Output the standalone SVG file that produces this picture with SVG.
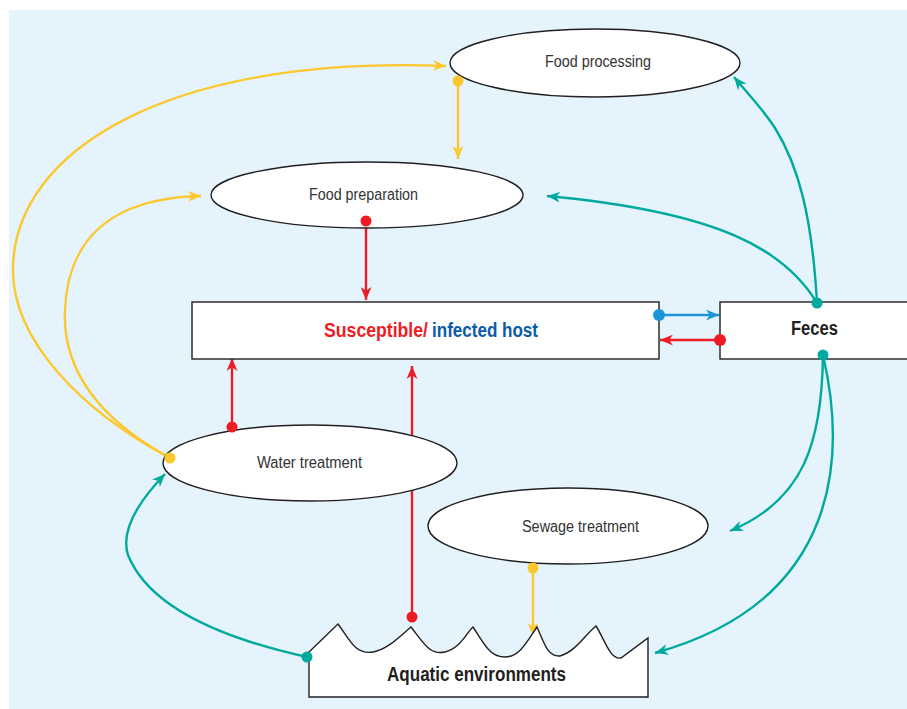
<svg xmlns="http://www.w3.org/2000/svg" width="907" height="709" viewBox="0 0 907 709">
<defs>
<style>
.bg{fill:#e5f4fc}
.node{fill:#fff;stroke:#231f20;stroke-width:1.4}
.lbl{font-family:"Liberation Sans",Arial,sans-serif;font-size:16px;fill:#333;text-anchor:start}
.blbl{font-family:"Liberation Sans",Arial,sans-serif;font-size:20px;font-weight:bold;fill:#231f20}
.c{fill:none;stroke-width:2.4}
.y{stroke:#fdc72e}
.r{stroke:#ed1c24}
.t{stroke:#00a99d}
.b{stroke:#1b95d8}
</style>
<marker id="ay" viewBox="0 0 12 10" refX="12" refY="5" markerWidth="13" markerHeight="11" orient="auto" markerUnits="userSpaceOnUse"><path d="M0,0 L12,5 L0,10 L3.5,5 Z" fill="#fdc72e"/></marker>
<marker id="ar" viewBox="0 0 12 10" refX="12" refY="5" markerWidth="13" markerHeight="11" orient="auto" markerUnits="userSpaceOnUse"><path d="M0,0 L12,5 L0,10 L3.5,5 Z" fill="#ed1c24"/></marker>
<marker id="at" viewBox="0 0 12 10" refX="12" refY="5" markerWidth="13" markerHeight="11" orient="auto" markerUnits="userSpaceOnUse"><path d="M0,0 L12,5 L0,10 L3.5,5 Z" fill="#00a99d"/></marker>
<marker id="ab" viewBox="0 0 12 10" refX="12" refY="5" markerWidth="13" markerHeight="11" orient="auto" markerUnits="userSpaceOnUse"><path d="M0,0 L12,5 L0,10 L3.5,5 Z" fill="#1b95d8"/></marker>
</defs>
<rect class="bg" x="9" y="10" width="898" height="699"/>
<g id="connectors">
<path class="c y" stroke-width="2.8" d="M170,458 C80,410 13,340 13,270 C13,150 170,55 446,66" marker-end="url(#ay)"/>
<path class="c y" stroke-width="2.8" d="M170,458 C100,420 62,370 65,310 C68,240 110,198 201,196" marker-end="url(#ay)"/>
<path class="c y" d="M458,81 L458,159" marker-end="url(#ay)"/>
<path class="c y" d="M533,568 L533,636" marker-end="url(#ay)"/>
<path class="c r" d="M366,221 L366,300" marker-end="url(#ar)"/>
<path class="c r" d="M232,427 L232,358" marker-end="url(#ar)"/>
<path class="c r" d="M412,617 L412,366" marker-end="url(#ar)"/>
<path class="c r" d="M720,340 L660,340" marker-end="url(#ar)"/>
<path class="c b" d="M659,315 L719,315" marker-end="url(#ab)"/>
<path class="c t" d="M817,303 C812,215 798,165 775,128 C762,108 748,94 734,77" marker-end="url(#at)"/>
<path class="c t" d="M817,303 C785,250 720,212 547,196" marker-end="url(#at)"/>
<path class="c t" d="M823,355 C822,440 805,500 730,531" marker-end="url(#at)"/>
<path class="c t" d="M823,355 C845,450 845,600 655,653" marker-end="url(#at)"/>
<path class="c t" d="M307,657 C230,640 150,610 128,555 C120,530 140,500 165,474" marker-end="url(#at)"/>
</g>
<g id="food-processing">
<ellipse class="node" cx="595" cy="63" rx="145" ry="34"/>
<text class="lbl" x="545" y="67" textLength="106" lengthAdjust="spacingAndGlyphs">Food processing</text>
</g>
<g id="food-preparation">
<ellipse class="node" cx="367" cy="195" rx="156" ry="33"/>
<text class="lbl" x="309" y="200" textLength="109" lengthAdjust="spacingAndGlyphs">Food preparation</text>
</g>
<g id="host">
<rect class="node" x="192" y="302" width="467" height="57"/>
<text class="blbl" x="324" y="337" style="fill:#ed1c24" textLength="104" lengthAdjust="spacingAndGlyphs">Susceptible/</text>
<text class="blbl" x="432" y="337" style="fill:#0b5ca8" textLength="106" lengthAdjust="spacingAndGlyphs">infected host</text>
</g>
<g id="feces">
<rect class="node" x="720" y="302" width="200" height="57"/>
<text class="blbl" x="791" y="335" textLength="47" lengthAdjust="spacingAndGlyphs">Feces</text>
</g>
<g id="water-treatment">
<ellipse class="node" cx="310" cy="463" rx="147" ry="38"/>
<text class="lbl" x="257" y="468" textLength="105" lengthAdjust="spacingAndGlyphs">Water treatment</text>
</g>
<g id="sewage-treatment">
<ellipse class="node" cx="568" cy="526" rx="140" ry="38"/>
<text class="lbl" x="522" y="532" textLength="117" lengthAdjust="spacingAndGlyphs">Sewage treatment</text>
</g>
<g id="aquatic-environments">
<path class="node" d="M309,697 L309,652 L338,624 C350,640 355,655 373,652 C387,650 400,636 411,627 C425,645 430,655 445,652 C460,648 465,635 473,627 C485,645 490,657 505,657 C520,657 528,640 537,627 C545,645 548,657 560,656 C575,652 585,635 596,626 C605,640 610,660 621,658 L648,638 L648,697 Z"/>
<text class="blbl" x="387" y="681" textLength="179" lengthAdjust="spacingAndGlyphs">Aquatic environments</text>
</g>
<g id="connector-dots">
<circle cx="458" cy="81" r="5.5" fill="#fdc72e"/>
<circle cx="170" cy="458" r="5.5" fill="#fdc72e"/>
<circle cx="533" cy="568" r="5.5" fill="#fdc72e"/>
<circle cx="366" cy="221" r="5.5" fill="#ed1c24"/>
<circle cx="232" cy="427" r="5.5" fill="#ed1c24"/>
<circle cx="412" cy="617" r="5.5" fill="#ed1c24"/>
<circle cx="720" cy="340" r="6" fill="#ed1c24"/>
<circle cx="659" cy="315" r="6" fill="#1b95d8"/>
<circle cx="817" cy="303" r="5.5" fill="#00a99d"/>
<circle cx="823" cy="355" r="5.5" fill="#00a99d"/>
<circle cx="307" cy="657" r="5.5" fill="#00a99d"/>
</g>
</svg>
